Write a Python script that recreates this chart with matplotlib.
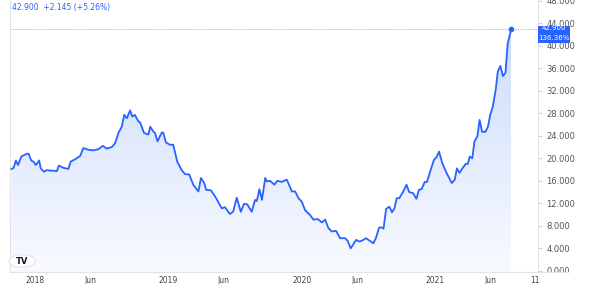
import numpy as np
import pandas as pd
import matplotlib
matplotlib.use("Agg")
import matplotlib.pyplot as plt
import matplotlib.dates as mdates
from matplotlib.colors import LinearSegmentedColormap
from matplotlib.patches import Rectangle, Circle

# price series
dates = [
    "2017-10-28", "2017-11-03", "2017-11-09", "2017-11-15", "2017-11-24", "2017-12-09",
    "2017-12-14", "2017-12-21", "2017-12-27", "2018-01-03", "2018-01-12", "2018-01-16",
    "2018-01-25", "2018-02-02", "2018-02-11", "2018-02-20", "2018-03-01", "2018-03-07",
    "2018-03-19", "2018-04-02", "2018-04-08", "2018-04-20", "2018-05-04", "2018-05-13",
    "2018-05-27", "2018-06-09", "2018-06-23", "2018-07-05", "2018-07-16", "2018-07-30",
    "2018-08-08", "2018-08-17", "2018-08-26", "2018-09-02", "2018-09-09", "2018-09-18",
    "2018-09-24", "2018-10-01", "2018-10-11", "2018-10-15", "2018-10-26", "2018-11-07",
    "2018-11-12", "2018-11-21", "2018-11-25", "2018-12-02", "2018-12-14", "2018-12-18",
    "2018-12-25", "2019-01-05", "2019-01-14", "2019-01-25", "2019-02-06", "2019-02-15",
    "2019-02-27", "2019-03-10", "2019-03-24", "2019-03-31", "2019-04-09", "2019-04-14",
    "2019-04-27", "2019-05-09", "2019-05-27", "2019-06-05", "2019-06-18", "2019-06-27",
    "2019-07-07", "2019-07-18", "2019-07-27", "2019-08-05", "2019-08-17", "2019-08-26",
    "2019-08-31", "2019-09-07", "2019-09-14", "2019-09-23", "2019-09-27", "2019-10-06",
    "2019-10-18", "2019-10-26", "2019-11-07", "2019-11-21", "2019-12-05", "2019-12-14",
    "2019-12-23", "2020-01-01", "2020-01-10", "2020-01-24", "2020-02-02", "2020-02-14",
    "2020-02-25", "2020-03-05", "2020-03-14", "2020-03-23", "2020-04-04", "2020-04-15",
    "2020-04-29", "2020-05-06", "2020-05-14", "2020-05-20", "2020-05-29", "2020-06-07",
    "2020-06-18", "2020-06-25", "2020-07-04", "2020-07-15", "2020-07-22", "2020-07-31",
    "2020-08-07", "2020-08-12", "2020-08-19", "2020-08-28", "2020-09-04", "2020-09-11",
    "2020-09-17", "2020-09-24", "2020-10-05", "2020-10-14", "2020-10-21", "2020-11-01",
    "2020-11-10", "2020-11-17", "2020-11-24", "2020-12-03", "2020-12-09", "2020-12-19",
    "2020-12-28", "2021-01-04", "2021-01-11", "2021-01-20", "2021-02-02", "2021-02-15",
    "2021-02-23", "2021-03-01", "2021-03-08", "2021-03-16", "2021-03-25", "2021-03-31",
    "2021-04-05", "2021-04-12", "2021-04-18", "2021-04-26", "2021-05-02", "2021-05-09",
    "2021-05-18", "2021-05-25", "2021-05-31", "2021-06-07", "2021-06-15", "2021-06-21",
    "2021-06-28", "2021-07-05", "2021-07-12", "2021-07-18", "2021-07-28",
]
prices = [
    18.1, 18.3, 19.6, 18.8, 20.3, 20.8,
    20.8, 19.6, 19.4, 18.8, 19.6, 18.2,
    17.6, 17.9, 17.8, 17.8, 17.7, 18.7,
    18.3, 18.1, 19.4, 19.8, 20.4, 21.8,
    21.5, 21.4, 21.6, 22.2, 21.7, 22.0,
    22.7, 24.5, 25.6, 27.7, 27.1, 28.5,
    27.4, 27.7, 26.5, 26.4, 24.5, 24.2,
    25.6, 24.7, 24.5, 23.0, 24.6, 24.5,
    22.8, 22.4, 22.4, 19.4, 17.9, 17.2,
    17.1, 15.3, 14.1, 16.5, 15.6, 14.4,
    14.3, 13.2, 11.1, 11.3, 10.1, 10.5,
    13.0, 10.5, 11.9, 11.8, 10.5, 12.6,
    12.4, 14.5, 12.6, 16.5, 15.9, 16.0,
    15.3, 16.0, 15.8, 16.2, 14.1, 14.1,
    12.9, 12.3, 10.8, 9.9, 9.1, 9.2,
    8.6, 9.1, 7.6, 7.0, 7.1, 5.8,
    5.8, 5.3, 4.0, 4.6, 5.5, 5.2,
    5.5, 5.8, 5.4, 4.9, 5.8, 7.7,
    7.7, 7.5, 11.0, 11.4, 10.4, 11.1,
    12.9, 12.9, 14.1, 15.3, 14.0, 13.8,
    12.8, 14.4, 14.5, 15.8, 15.8, 17.9,
    19.7, 20.2, 21.2, 19.1, 17.2, 15.6,
    16.2, 18.2, 17.4, 18.2, 19.0, 19.0,
    20.3, 20.0, 23.0, 23.9, 26.8, 24.7,
    24.7, 25.6, 27.7, 29.1, 32.1, 35.4,
    36.4, 34.6, 35.2, 40.4, 42.9,
]
y_ticks = [0, 4, 8, 12, 16, 20, 24, 28, 32, 36, 40, 44, 48]
x_tick_dates = ["2018-01-01", "2018-06-01", "2019-01-01", "2019-06-01", "2020-01-01",
                "2020-06-01", "2021-01-01", "2021-06-01", "2021-10-01"]
x_tick_labels = ["2018", "Jun", "2019", "Jun", "2020", "Jun", "2021", "Jun", "11"]
last_price = "42.900"
last_change = "136.36%"
header = "42.900  +2.145 (+5.26%)"

blue = "#2962ff"
x = mdates.date2num(pd.to_datetime(dates))
y = np.array(prices)

fig = plt.figure(figsize=(6, 2.84), dpi=100)
fig.patch.set_facecolor("white")
ax = fig.add_axes([10 / 600, 12 / 284, 528 / 600, 272 / 284])
ax.set_xlim(mdates.date2num(pd.Timestamp("2017-10-24")), mdates.date2num(pd.Timestamp("2021-10-09")))
ax.set_ylim(-0.2, 48.1)

# gradient area under the line
cmap = LinearSegmentedColormap.from_list("fade", ["#f8faff", "#cddcfb"])
poly = ax.fill_between(x, y, -0.2, color="none")
grad = np.linspace(0, 1, 256).reshape(-1, 1)
im = ax.imshow(grad, cmap=cmap, aspect="auto", origin="lower",
               extent=[x[0], x[-1], -0.2, 42.9], zorder=1)
im.set_clip_path(poly.get_paths()[0], transform=ax.transData)

ax.plot(x, y, color=blue, lw=1.3, zorder=3, solid_joinstyle="round")
ax.plot(x[-1], y[-1], "o", color=blue, ms=3, zorder=4)
ax.axhline(y[-1], color="#8eaaf5", lw=0.6, ls=(0, (1.5, 1.5)), zorder=2)

ax.spines["top"].set_visible(False)
for s in ["left", "right", "bottom"]:
    ax.spines[s].set_color("#e3e3e3")
    ax.spines[s].set_linewidth(0.8)

ax.yaxis.tick_right()
ax.set_yticks(y_ticks)
ax.set_yticklabels([f"{v:.3f}" for v in y_ticks])
ax.tick_params(axis="y", length=3, color="#d0d0d0", labelsize=6, labelcolor="#555555", pad=3)
ax.set_xticks(mdates.date2num(pd.to_datetime(x_tick_dates)))
ax.set_xticklabels(x_tick_labels)
ax.tick_params(axis="x", length=0, labelsize=5.5, labelcolor="#444444", pad=3)

# extend bottom separator under the price scale
fig.add_artist(plt.Line2D([538 / 600, 568 / 600], [12 / 284, 12 / 284],
                          color="#e3e3e3", lw=0.8, transform=fig.transFigure))
fig.add_artist(Rectangle((539 / 600, 0), 61 / 600, 11.5 / 284, transform=fig.transFigure,
                         facecolor="white", edgecolor="none", zorder=5))

# last price label
fig.add_artist(Rectangle((538 / 600, (284 - 43) / 284), 32 / 600, 17 / 284,
                         transform=fig.transFigure, facecolor=blue, edgecolor="none", zorder=6))
fig.text(554 / 600, (284 - 30) / 284, last_price, color="white", fontsize=5,
         ha="center", zorder=7)
fig.text(554 / 600, (284 - 39.5) / 284, last_change, color="white", fontsize=5,
         ha="center", zorder=7)

fig.text(12 / 600, (284 - 10) / 284, header, color=blue, fontsize=5.5)

# logo badge
fig.add_artist(Circle((22 / 600, (284 - 261) / 284), 0.022, transform=fig.transFigure,
                      facecolor="white", edgecolor="#e0e0e0", lw=0.6, zorder=6))
fig.text(22 / 600, (284 - 261) / 284, "TV", ha="center", va="center", fontsize=6,
         fontweight="bold", color="#131722", zorder=7)

fig.savefig("out.png", dpi=100)
